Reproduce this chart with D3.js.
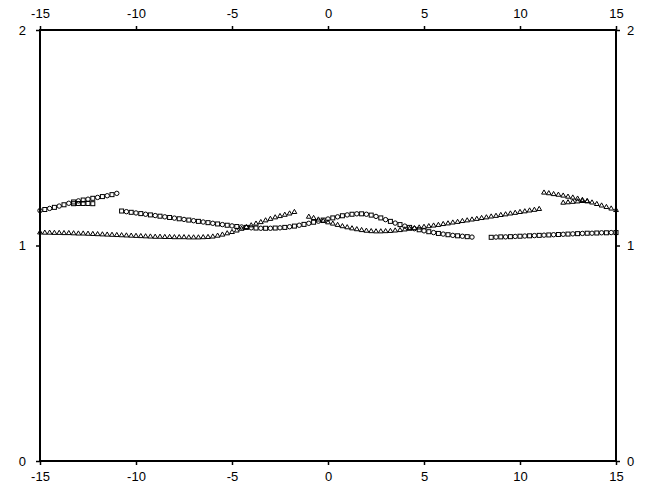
<html lang="en">
<head>
  <meta charset="UTF-8"/>
  <title>Symbols plot</title>
  <script src="https://d3js.org/d3.v7.min.js"></script>
  <style>
    body { margin: 0; background: #ffffff; }
    text { font-family: "Liberation Sans", Arial, sans-serif; fill: #000; }
  </style>
</head>
<body>
<svg id="chart"></svg>
<script>
// sample spacing along x used by every series
const xStep = 0.25;

// tick labels
const xTicks = [-15, -10, -5, 0, 5, 10, 15];
const yTicks = [0, 1, 2];

// curve A (circles and squares alternate on it), pieces with start x
const curveA1Start = -15;
const curveA1 = [1.162, 1.167, 1.172, 1.177, 1.183, 1.189, 1.196, 1.202, 1.207, 1.211, 1.215, 1.219, 1.223, 1.227, 1.231, 1.236, 1.242];
const curveA2Start = -10.75;
const curveA2 = [1.160, 1.157, 1.154, 1.151, 1.148, 1.145, 1.142, 1.139, 1.136, 1.133, 1.130, 1.127, 1.124, 1.121, 1.118, 1.115,
  1.112, 1.109, 1.106, 1.103, 1.100, 1.097, 1.094, 1.091, 1.088, 1.086, 1.084, 1.082, 1.081, 1.080, 1.080, 1.080,
  1.081, 1.082, 1.084, 1.087, 1.090, 1.094, 1.098, 1.103, 1.108, 1.113, 1.118, 1.123, 1.128, 1.133, 1.138, 1.142,
  1.145, 1.147, 1.147, 1.145, 1.141, 1.135, 1.128, 1.120, 1.112, 1.104, 1.097, 1.090, 1.084, 1.078, 1.073, 1.068,
  1.064, 1.060, 1.056, 1.053, 1.050, 1.047, 1.045, 1.043, 1.041, 1.039];
const curveA3Start = 8.5;
const curveA3 = [1.038, 1.039, 1.040, 1.040, 1.041, 1.042, 1.043, 1.044, 1.045, 1.046, 1.047, 1.048, 1.049, 1.050,
  1.051, 1.052, 1.053, 1.054, 1.055, 1.056, 1.057, 1.057, 1.058, 1.059, 1.059, 1.060, 1.060];
// short extra row of squares on the left
const extraSquaresStart = -13.25;
const extraSquares = [1.194, 1.195, 1.195, 1.195, 1.194];

// curve B (triangles)
const curveB1Start = -15;
const curveB1 = [1.060, 1.059, 1.059, 1.058, 1.058, 1.057, 1.057, 1.056, 1.055, 1.055, 1.054, 1.053, 1.052, 1.051,
  1.050, 1.049, 1.048, 1.047, 1.046, 1.045, 1.044, 1.043, 1.042, 1.041, 1.040, 1.040, 1.039, 1.039, 1.038, 1.038,
  1.038, 1.037, 1.037, 1.037, 1.038, 1.039, 1.041, 1.045, 1.050, 1.056, 1.062, 1.069, 1.077, 1.085, 1.093, 1.101,
  1.108, 1.116, 1.123, 1.130, 1.136, 1.142, 1.148, 1.155];
const curveB2Start = -1;
const curveB2 = [1.133, 1.127, 1.120, 1.113, 1.107, 1.101, 1.095, 1.089, 1.084, 1.079, 1.075, 1.071, 1.068, 1.066,
  1.065, 1.065, 1.066, 1.067, 1.069, 1.071, 1.074, 1.077, 1.080, 1.083, 1.086, 1.089, 1.092, 1.095, 1.099, 1.102,
  1.106, 1.109, 1.113, 1.116, 1.120, 1.123, 1.127, 1.130, 1.134, 1.137, 1.141, 1.144, 1.148, 1.151, 1.155, 1.158,
  1.162, 1.165, 1.169];
const curveB3Start = 11.25;
const curveB3 = [1.245, 1.242, 1.238, 1.235, 1.231, 1.226, 1.222, 1.217, 1.211, 1.205, 1.199, 1.192, 1.185, 1.178, 1.171, 1.164];
// short extra row of triangles on the right
const extraTrianglesStart = 12.25;
const extraTriangles = [1.198, 1.200, 1.202, 1.204, 1.206, 1.205];

var width = 660, height = 497;
var margin = {left: 40, right: 44, top: 30, bottom: 36};

var svg = d3.select("#chart").attr("width", width).attr("height", height);

var x = d3.scaleLinear().domain([-15, 15]).range([margin.left, width - margin.right]);
var y = d3.scaleLinear().domain([0, 2]).range([height - margin.bottom, margin.top]);

function toPoints(start, values) {
  return values.map(function(v, i) { return {x: start + i * xStep, y: v}; });
}

// circles and squares take turns along curve A
var curveA = toPoints(curveA1Start, curveA1)
  .concat(toPoints(curveA2Start, curveA2))
  .concat(toPoints(curveA3Start, curveA3));
var circles = curveA.filter(function(d, i) { return i % 2 == 0; });
var squares = curveA.filter(function(d, i) { return i % 2 == 1; })
  .concat(toPoints(extraSquaresStart, extraSquares));
var triangles = toPoints(curveB1Start, curveB1)
  .concat(toPoints(curveB2Start, curveB2))
  .concat(toPoints(curveB3Start, curveB3))
  .concat(toPoints(extraTrianglesStart, extraTriangles));

// plain labels with an ascii minus, no decimals
var fmt = function(d) { return String(d); };

// axes on all four sides
var tickLen = 4;
svg.append("g").attr("transform", "translate(0," + y(0) + ")")
  .call(d3.axisBottom(x).tickValues(xTicks).tickFormat(fmt).tickSize(tickLen).tickPadding(7));
svg.append("g").attr("transform", "translate(0," + y(2) + ")")
  .call(d3.axisTop(x).tickValues(xTicks).tickFormat(fmt).tickSize(tickLen).tickPadding(8));
svg.append("g").attr("transform", "translate(" + x(-15) + ",0)")
  .call(d3.axisLeft(y).tickValues(yTicks).tickFormat(fmt).tickSize(tickLen).tickPadding(10));
svg.append("g").attr("transform", "translate(" + x(15) + ",0)")
  .call(d3.axisRight(y).tickValues(yTicks).tickFormat(fmt).tickSize(tickLen).tickPadding(7));

svg.selectAll(".domain").remove();
svg.selectAll(".tick line").attr("stroke", "#000").attr("stroke-width", 1.5);
svg.selectAll(".tick text")
  .style("font-family", "'Liberation Sans', Arial, sans-serif")
  .style("font-size", "13px");

// frame
svg.append("rect")
  .attr("x", x(-15)).attr("y", y(2))
  .attr("width", x(15) - x(-15)).attr("height", y(0) - y(2))
  .attr("fill", "none").attr("stroke", "#000").attr("stroke-width", 2);

var marks = svg.append("g").attr("fill", "none").attr("stroke", "#000").attr("stroke-width", 1);

marks.selectAll(".c").data(circles).enter().append("circle")
  .attr("cx", function(d) { return x(d.x); })
  .attr("cy", function(d) { return y(d.y); })
  .attr("r", 2.2);

marks.selectAll(".s").data(squares).enter().append("rect")
  .attr("x", function(d) { return x(d.x) - 2; })
  .attr("y", function(d) { return y(d.y) - 2; })
  .attr("width", 4).attr("height", 4);

var tri = d3.symbol().type(d3.symbolTriangle).size(10);
marks.selectAll(".t").data(triangles).enter().append("path")
  .attr("transform", function(d) { return "translate(" + x(d.x) + "," + y(d.y) + ")"; })
  .attr("d", tri);
</script>
</body>
</html>
